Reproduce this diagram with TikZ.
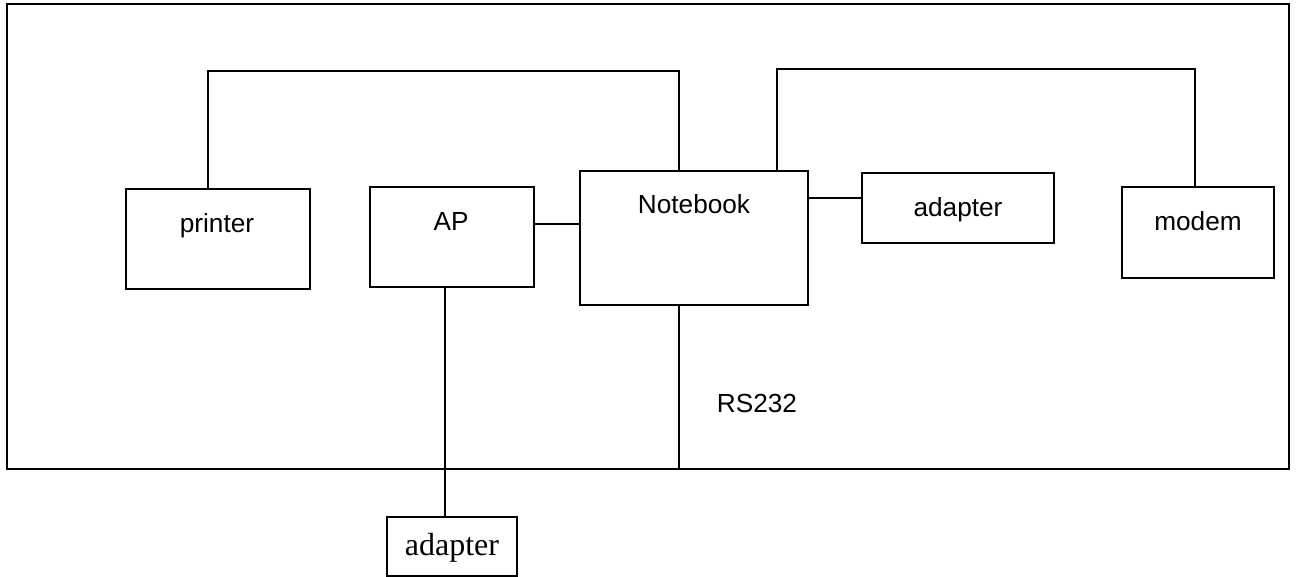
\documentclass[tikz,border=0pt]{standalone}
\usepackage{fontspec}
\setmainfont{Liberation Sans}
\newfontfamily\serifface{Liberation Serif}
\begin{document}
\begin{tikzpicture}[x=1pt,y=-1pt,
  box/.style={draw,line width=1.5pt,minimum width=#1,inner sep=0pt,outer sep=0pt},
  lbl/.style={anchor=base,inner sep=0pt,font=\fontsize{26.2}{30}\selectfont},
  wire/.style={line width=1.5pt}]
\useasboundingbox (0,0) rectangle (1298,577);
\node[box=1282pt,minimum height=465pt,line width=1.8pt] (frame) at (648,236.5) {};
\node[box=184pt,minimum height=100pt] (printer) at (218,239) {};
\node[box=164pt,minimum height=100pt] (ap) at (452,237) {};
\node[box=228pt,minimum height=134pt] (notebook) at (694,238) {};
\node[box=192pt,minimum height=70pt] (adapterR) at (958,208) {};
\node[box=152pt,minimum height=91pt] (modem) at (1198,232.5) {};
\node[box=130pt,minimum height=59pt] (adapterB) at (452,546.5) {};
\node[lbl] (tprinter) at (217,233) {printer};
\node[lbl] (tap) at (451,231) {AP};
\node[lbl] (tnotebook) at (694,214) {Notebook};
\node[lbl] (tadapterR) at (958,217) {adapter};
\node[lbl] (tmodem) at (1198,231) {modem};
\node[lbl] (trs) at (757,412) {RS232};
\node[anchor=base,inner sep=0pt,font=\serifface\fontsize{32}{36}\selectfont] (tadapterB) at (452,555) {adapter};
\coordinate (c1) at (208,71);
\coordinate (c2) at (777,69);
\coordinate (nbA) at ([xshift=-15pt]notebook.north);
\coordinate (nbB) at ([xshift=83pt]notebook.north);
\coordinate (mdA) at ([xshift=-3pt]modem.north);
\draw[wire] ([xshift=-10pt]printer.north) |- (c1 -| nbA) -- (nbA);
\draw[wire] (nbB) |- (c2 -| mdA) -- (mdA);
\draw[wire] ([yshift=13pt]ap.east) -- ([yshift=13pt]ap.east -| notebook.west);
\draw[wire] ([yshift=40pt]notebook.east) -- ([yshift=40pt]notebook.east -| adapterR.west);
\draw[wire] ([xshift=-15pt]notebook.south) -- ([xshift=-15pt]notebook.south |- frame.south);
\draw[wire] ([xshift=-7pt]ap.south) -- ([xshift=-7pt]ap.south |- adapterB.north);
\end{tikzpicture}
\end{document}
